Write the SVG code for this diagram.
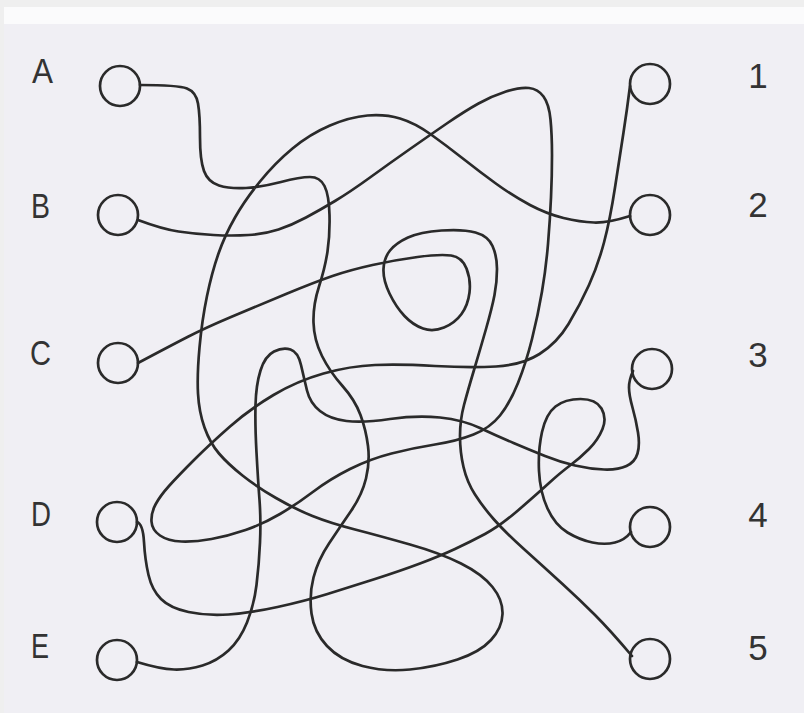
<svg xmlns="http://www.w3.org/2000/svg" width="804" height="713" viewBox="0 0 804 713">
<style>
.bg{fill:#f0eff4}
.term{fill:none;stroke:#2a2a2a;stroke-width:2.7}
.wire{fill:none;stroke:#2a2a2a;stroke-width:2.7;stroke-linecap:round;stroke-linejoin:round}
.lbl{font-family:"Liberation Sans",Arial,sans-serif;font-size:35px;fill:#333}
</style>
<rect class="bg" x="0" y="0" width="804" height="713"/>
<rect x="0" y="7" width="804" height="17" fill="#fbfbfc"/>
<rect x="0" y="0" width="804" height="7" fill="#efefef"/>
<rect x="0" y="0" width="4" height="713" fill="#efefef"/>
<g id="connectors">
<path id="wire-A-2" class="wire" d="M140,85 Q178,85 187,88.5 Q196,92 198,103.5 Q200,115 200,137.5 Q200,160 204,171 Q208,182 219,185.5 Q230,189 246,188 Q262,187 281,182 Q300,177 310,177 Q320,177 324.5,186 Q329,195 329.5,215 Q330,235 327.5,251.5 Q325,268 319,286.5 Q313,305 313.5,322.5 Q314,340 322,356 Q330,372 342.5,386 Q355,400 360.5,415 Q366,430 368,446 Q370,462 366,478.5 Q362,495 351,511 Q340,527 329,543.5 Q318,560 313.5,577.5 Q309,595 311.5,613.5 Q314,632 327,646 Q340,660 362.5,666 Q385,672 410,669.5 Q435,667 457.5,659.5 Q480,652 491,640 Q502,628 502.5,614 Q503,600 492.5,587 Q482,574 461,563.5 Q440,553 410,544.5 Q380,536 355,529.5 Q330,523 312.5,516 Q295,509 276,498 Q257,487 242.5,475.5 Q228,464 219,453.5 Q210,443 204.5,427.5 Q199,412 198,393.5 Q197,375 199.5,347.5 Q202,320 207,296 Q212,272 218.5,253.5 Q225,235 235,217.5 Q245,200 260,181.5 Q275,163 292.5,148.5 Q310,134 330,125.5 Q350,117 367.5,115.5 Q385,114 400,118.5 Q415,123 431,134.5 Q447,146 463.5,159 Q480,172 496.5,184 Q513,196 530,205 Q547,214 563.5,218 Q580,222 594,222.5 Q608,223 630,216"/>
<path id="wire-B-1" class="wire" d="M138,220 Q162,229 178.5,231.5 Q195,234 213.5,235 Q232,236 248.5,235 Q265,234 278.5,229.5 Q292,225 306,217.5 Q320,210 335,201 Q350,192 370,177.5 Q390,163 410,149 Q430,135 447.5,123 Q465,111 478.5,103.5 Q492,96 506,91.5 Q520,87 529,88 Q538,89 543.5,96.5 Q549,104 550.5,119.5 Q552,135 552,155 Q552,175 551,197.5 Q550,220 548,244 Q546,268 542,291.5 Q538,315 532,339 Q526,363 518,383 Q510,403 500,415.5 Q490,428 473.5,434.5 Q457,441 435,444.5 Q413,448 391.5,453.5 Q370,459 350,469 Q330,479 313.5,491.5 Q297,504 280,514 Q263,524 245.5,530 Q228,536 211.5,539 Q195,542 181.5,541.5 Q168,541 160,535.5 Q152,530 151.5,521.5 Q151,513 155.5,504.5 Q160,496 169,486 Q178,476 194,460 Q210,444 230,426.5 Q250,409 273.5,395 Q297,381 323.5,373.5 Q350,366 375,365 Q400,364 435,366 Q470,368 496,366.5 Q522,365 539.5,354 Q557,343 568.5,324 Q580,305 589,285 Q598,265 604,242.5 Q610,220 615,187.5 Q620,155 623.5,132.5 Q627,110 630,86"/>
<path id="wire-C-5" class="wire" d="M138,363 Q170,346 187.5,337 Q205,328 231,317 Q257,306 286,294 Q315,282 332.5,276 Q350,270 372.5,265 Q395,260 417.5,257 Q440,254 451,255.5 Q462,257 466.5,268.5 Q471,280 469.5,292.5 Q468,305 461.5,314 Q455,323 444,327.5 Q433,332 423,328.5 Q413,325 404.5,316 Q396,307 389.5,293.5 Q383,280 383.5,269 Q384,258 390,250.5 Q396,243 408,237.5 Q420,232 441.5,230.5 Q463,229 475.5,232.5 Q488,236 492.5,246 Q497,256 497,269 Q497,282 494.5,295 Q492,308 486,329 Q480,350 474,370 Q468,390 464,405 Q460,420 460,436 Q460,452 463.5,467 Q467,482 475,494.5 Q483,507 494,519.5 Q505,532 525,550 Q545,568 562.5,584 Q580,600 595,615 Q610,630 632,656"/>
<path id="wire-D-4" class="wire" d="M137,522 Q143,524 144,542 Q145,560 148.5,575 Q152,590 161,599 Q170,608 188.5,612 Q207,616 228.5,614.5 Q250,613 277.5,607 Q305,601 327.5,594 Q350,587 375,579 Q400,571 420,563.5 Q440,556 455,549 Q470,542 485,534 Q500,526 518.5,510 Q537,494 548.5,483.5 Q560,473 570,465.5 Q580,458 589,449 Q598,440 602.5,429 Q607,418 601.5,408.5 Q596,399 580.5,399 Q565,399 555.5,406.5 Q546,414 542,432 Q538,450 539,471 Q540,492 547.5,508.5 Q555,525 567.5,532.5 Q580,540 592.5,542.5 Q605,545 615,542.5 Q625,540 631,532"/>
<path id="wire-E-3" class="wire" d="M137,662 Q160,669 174,669.5 Q188,670 202.5,665.5 Q217,661 228.5,650.5 Q240,640 247,622.5 Q254,605 256.5,585 Q259,565 260,542.5 Q261,520 259.5,500 Q258,480 256.5,452.5 Q255,425 255.5,405 Q256,385 260.5,370.5 Q265,356 274,351.5 Q283,347 290.5,349.5 Q298,352 301,365 Q304,378 307,390.5 Q310,403 320,411 Q330,419 346.5,421 Q363,423 390,419 Q417,415 440,417.5 Q463,420 480,428 Q497,436 513.5,443 Q530,450 545,456 Q560,462 575,465.5 Q590,469 604,469.5 Q618,470 626.5,466 Q635,462 637.5,453.5 Q640,445 638,432.5 Q636,420 632.5,407.5 Q629,395 629,387.5 Q629,380 633,371"/>
</g>
<g id="node-A"><circle class="term" cx="120" cy="86" r="20"/><text class="lbl" x="32" y="83" textLength="21" lengthAdjust="spacingAndGlyphs">A</text></g>
<g id="node-B"><circle class="term" cx="118" cy="215" r="20"/><text class="lbl" x="31" y="218" textLength="19" lengthAdjust="spacingAndGlyphs">B</text></g>
<g id="node-C"><circle class="term" cx="118" cy="363" r="20"/><text class="lbl" x="30" y="365" textLength="21" lengthAdjust="spacingAndGlyphs">C</text></g>
<g id="node-D"><circle class="term" cx="117" cy="522" r="20"/><text class="lbl" x="31" y="526" textLength="20" lengthAdjust="spacingAndGlyphs">D</text></g>
<g id="node-E"><circle class="term" cx="117" cy="660" r="20"/><text class="lbl" x="31" y="658" textLength="18" lengthAdjust="spacingAndGlyphs">E</text></g>
<g id="node-1"><circle class="term" cx="650" cy="84" r="20"/><text class="lbl" x="758" y="88" text-anchor="middle">1</text></g>
<g id="node-2"><circle class="term" cx="650" cy="215" r="20"/><text class="lbl" x="758" y="217" text-anchor="middle">2</text></g>
<g id="node-3"><circle class="term" cx="652" cy="369" r="20"/><text class="lbl" x="758" y="367" text-anchor="middle">3</text></g>
<g id="node-4"><circle class="term" cx="650" cy="527" r="20"/><text class="lbl" x="758" y="527" text-anchor="middle">4</text></g>
<g id="node-5"><circle class="term" cx="650" cy="659" r="20"/><text class="lbl" x="758" y="660" text-anchor="middle">5</text></g>
</svg>
